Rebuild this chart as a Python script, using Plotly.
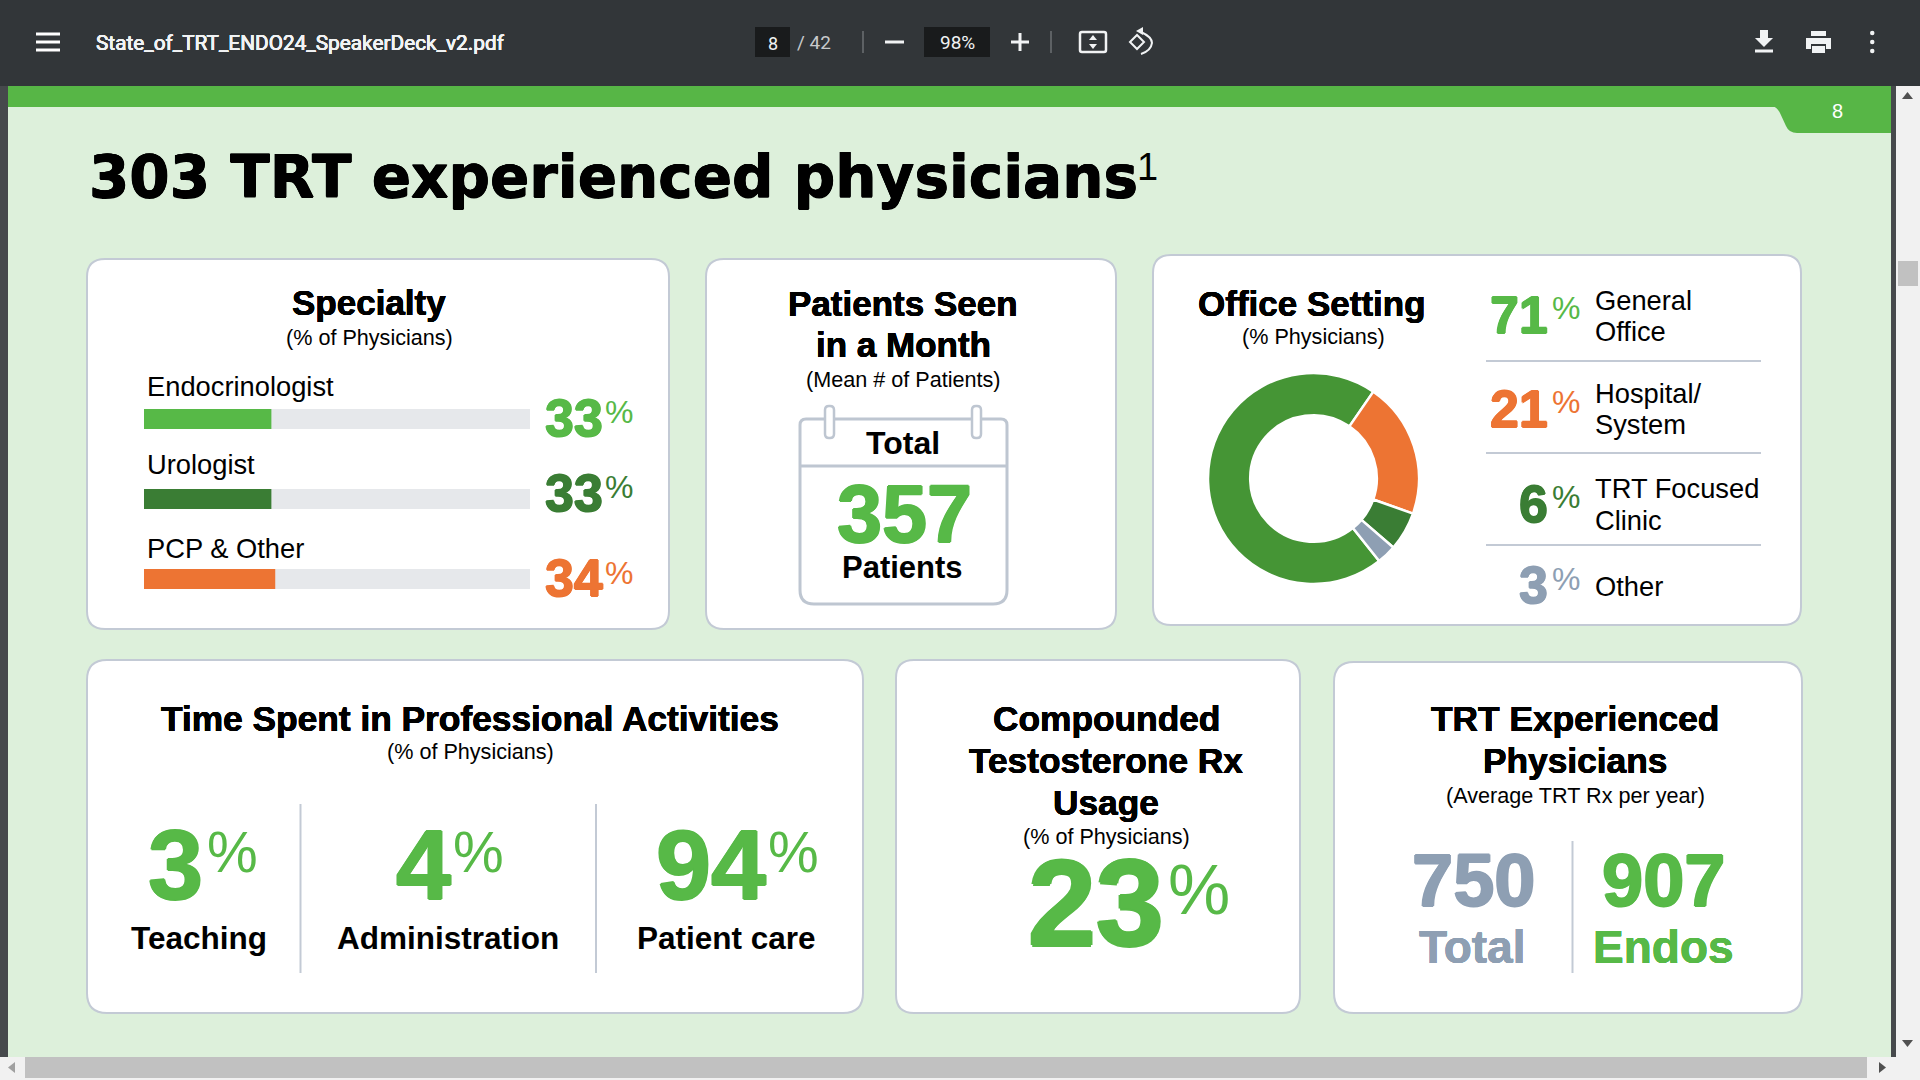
import plotly.graph_objects as go

W, H = 1920, 1080

# page text
file_name = "State_of_TRT_ENDO24_SpeakerDeck_v2.pdf"
page_no = "8"
page_total = "/ 42"
zoom_level = "98%"
main_title = "303 TRT experienced physicians"

# specialty card
specialty_names = ["Endocrinologist", "Urologist", "PCP & Other"]
specialty_values = [33, 33, 34]
specialty_track = [100, 100, 100]

# office setting card
office_names = ["General Office", "Hospital/System", "TRT Focused Clinic", "Other"]
office_values = [71, 21, 6, 3]

# single number cards
patients_total = 357
activity_names = ["Teaching", "Administration", "Patient care"]
activity_values = [3, 4, 94]
compounded_value = 23
rx_names = ["Total", "Endos"]
rx_values = [750, 907]

GREEN = "#57B947"
DARK = "#3A7D34"
ORANGE = "#ED7433"
GREY = "#8E9FB3"
PIE_GREEN = "#459535"
LINE = "#C3CAD5"
BAR_DARK = "#323639"
SANS = "Liberation Sans"

specialty_colors = [GREEN, DARK, ORANGE]
office_text_colors = [GREEN, ORANGE, DARK, GREY]
office_pie_colors = [PIE_GREEN, ORANGE, DARK, GREY]

shapes = []
notes = []


def px(x):
    return x / W


def py(y):
    return 1 - y / H


def add_rect(x0, y0, x1, y1, fill, line=None, width=0):
    shapes.append(dict(type="rect", xref="paper", yref="paper", layer="below",
                       x0=px(x0), x1=px(x1), y0=py(y0), y1=py(y1), fillcolor=fill,
                       line=dict(color=line or fill, width=width)))


def add_line(x0, y0, x1, y1, color=LINE, width=2):
    shapes.append(dict(type="line", xref="paper", yref="paper", layer="below",
                       x0=px(x0), x1=px(x1), y0=py(y0), y1=py(y1),
                       line=dict(color=color, width=width)))


def add_path(points, fill=None, line=None, width=0):
    # points is a list of (command, x, y, ...) in pixels
    d = ""
    for p in points:
        d += p[0]
        vals = p[1:]
        for i in range(0, len(vals), 2):
            d += f" {px(vals[i]):.5f},{py(vals[i + 1]):.5f} "
    shapes.append(dict(type="path", xref="paper", yref="paper", layer="below", path=d,
                       fillcolor=fill or "rgba(0,0,0,0)",
                       line=dict(color=line or "rgba(0,0,0,0)", width=width)))


def round_rect(x0, y0, x1, y1, r, fill="#FFFFFF", line=LINE, width=2, r_top=None):
    rt = r if r_top is None else r_top
    add_path([("M", x0 + rt, y0), ("L", x1 - rt, y0), ("Q", x1, y0, x1, y0 + rt),
              ("L", x1, y1 - r), ("Q", x1, y1, x1 - r, y1), ("L", x0 + r, y1),
              ("Q", x0, y1, x0, y1 - r), ("L", x0, y0 + rt), ("Q", x0, y0, x0 + rt, y0), ("Z",)],
             fill=fill, line=line, width=width)


def add_text(x, base, text, size, color="#000000", bold=False, anchor="center", family=SANS, heavy=0):
    # base is the text baseline in pixels, annotations only anchor on the box
    font = dict(family=family, size=size, color=color, weight=700 if bold else 400)
    if heavy:
        # the slide text is drawn fatter than plain bold
        font["shadow"] = (f"{heavy}px 0 0 {color}, -{heavy}px 0 0 {color}, "
                          f"0 {heavy}px 0 {color}, 0 -{heavy}px 0 {color}")
    notes.append(dict(xref="paper", yref="paper", x=px(x), y=py(base - 0.33 * size),
                      xanchor=anchor, yanchor="middle", text=text, showarrow=False,
                      borderpad=0, font=font))


def add_pct(x_digits_end, base, value, size, pct_x, pct_base, pct_size, color, heavy=0.8):
    add_text(x_digits_end, base, str(value), size, color, bold=True, anchor="right", heavy=heavy)
    add_text(pct_x, pct_base, "%", pct_size, color, anchor="left")


# viewer chrome
add_rect(0, 0, W, H, "#46494C")
add_rect(8, 86, 1891, 1057, "#DDF0DB")
add_rect(8, 86, 1891, 107, "#57B646")
add_rect(1896, 86, W, 1057, "#F1F1F1")
add_rect(0, 1057, W, H, "#F1F1F1")
add_rect(0, 0, W, 86, BAR_DARK)
add_path([("M", 1772, 106), ("L", 1891, 106), ("L", 1891, 133), ("L", 1797, 133),
          ("Q", 1789, 133, 1786, 126), ("L", 1780, 113), ("Q", 1777, 107, 1772, 106), ("Z",)],
         fill="#57B646")
add_rect(1898, 261, 1918, 286, "#C1C1C1")
add_rect(25, 1057, 1867, 1078, "#C1C1C1")
add_path([("M", 1902, 99), ("L", 1913, 99), ("L", 1907.5, 92), ("Z",)], fill="#505050")
add_path([("M", 1902, 1040), ("L", 1913, 1040), ("L", 1907.5, 1047), ("Z",)], fill="#505050")
add_path([("M", 15, 1062), ("L", 15, 1073), ("L", 8, 1067.5), ("Z",)], fill="#A0A0A0")
add_path([("M", 1879, 1062), ("L", 1879, 1073), ("L", 1886, 1067.5), ("Z",)], fill="#505050")

# toolbar icons
for y in [34, 42, 50]:
    add_line(36, y, 60, y, "#FFFFFF", 3)
add_rect(755, 27, 790, 57, "#191B1C")
add_rect(924, 27, 990, 57, "#191B1C")
add_line(863, 31, 863, 53, "#6C7073", 1.5)
add_line(1051, 31, 1051, 53, "#6C7073", 1.5)
add_line(885, 42, 904, 42, "#F1F3F4", 3)
add_line(1011, 42, 1029, 42, "#F1F3F4", 3)
add_line(1020, 33, 1020, 51, "#F1F3F4", 3)
round_rect(1080, 32, 1106, 52, 2, fill=BAR_DARK, line="#F1F3F4", width=2.5)
add_path([("M", 1089, 40), ("L", 1097, 40), ("L", 1093, 35), ("Z",)], fill="#F1F3F4")
add_path([("M", 1089, 44), ("L", 1097, 44), ("L", 1093, 49), ("Z",)], fill="#F1F3F4")
add_path([("M", 1130, 42), ("L", 1137, 35), ("L", 1144, 42), ("L", 1137, 49), ("Z",)], line="#F1F3F4", width=2)
add_path([("M", 1141, 32), ("Q", 1152, 37, 1152, 43), ("Q", 1151, 51, 1141, 54)], line="#F1F3F4", width=2)
add_path([("M", 1136, 31), ("L", 1143, 27), ("L", 1143, 35), ("Z",)], fill="#F1F3F4")
add_path([("M", 1760, 30), ("L", 1768, 30), ("L", 1768, 38), ("L", 1773, 38), ("L", 1764, 47),
          ("L", 1755, 38), ("L", 1760, 38), ("Z",)], fill="#F1F3F4")
add_line(1755, 51, 1773, 51, "#F1F3F4", 3)
add_path([("M", 1811, 31), ("L", 1826, 31), ("L", 1826, 36), ("L", 1811, 36), ("Z",)], fill="#F1F3F4")
add_path([("M", 1806, 38), ("L", 1831, 38), ("L", 1831, 49), ("L", 1826, 49), ("L", 1826, 44),
          ("L", 1811, 44), ("L", 1811, 49), ("L", 1806, 49), ("Z",)], fill="#F1F3F4")
add_path([("M", 1812, 46), ("L", 1825, 46), ("L", 1825, 53), ("L", 1812, 53), ("Z",)], fill="#F1F3F4")
for y in [33, 42, 51]:
    shapes.append(dict(type="circle", xref="paper", yref="paper", layer="below",
                       x0=px(1870), x1=px(1874.5), y0=py(y - 2.3), y1=py(y + 2.3),
                       fillcolor="#F1F3F4", line=dict(width=0)))

add_text(95, 50, file_name, 20.8, "#F1F3F4", anchor="left", family="Roboto", heavy=0.2)
add_text(772.5, 49, page_no, 18, "#F1F3F4", family="Roboto")
add_text(796, 49, page_total, 19, "#C8CACC", anchor="left", family="Roboto")
add_text(957, 49, zoom_level, 19, "#F1F3F4", family="Roboto")
add_text(1837, 118, page_no, 20, "#FFFFFF")

# title
add_text(88, 196, main_title, 58, bold=True, anchor="left", family="DejaVu Sans", heavy=0.5)
add_text(1136, 180, "1", 38, anchor="left")

# cards
round_rect(87, 259, 669, 629, 18)
round_rect(706, 259, 1116, 629, 18)
round_rect(1153, 255, 1801, 625, 18)
round_rect(87, 660, 863, 1013, 20)
round_rect(896, 660, 1300, 1013, 18)
round_rect(1334, 662, 1802, 1013, 20)

# specialty
add_text(369, 314, "Specialty", 35, bold=True, heavy=0.3)
add_text(369, 345, "(% of Physicians)", 21.6)
for name, base in zip(specialty_names, [396, 474, 558]):
    add_text(146, base, name, 27.3, anchor="left")
add_pct(604, 435, specialty_values[0], 52, 604, 423, 32, specialty_colors[0])
add_pct(604, 510, specialty_values[1], 52, 604, 498, 32, specialty_colors[1])
add_pct(604, 595, specialty_values[2], 52, 604, 584, 32, specialty_colors[2])

# patients seen, calendar drawn by hand
add_text(903, 315, "Patients Seen", 35, bold=True, heavy=0.3)
add_text(903, 356, "in a Month", 35, bold=True, heavy=0.3)
add_text(903, 387, "(Mean # of Patients)", 21.6)
round_rect(800, 419, 1007, 604, 14, r_top=6, line="#BEC6D1", width=3)
add_line(800, 466, 1007, 466, "#BEC6D1", 3)
round_rect(825, 406, 834, 438, 4, line="#BEC6D1", width=2.5)
round_rect(972, 406, 981, 438, 4, line="#BEC6D1", width=2.5)
add_text(903, 454, "Total", 32, bold=True)
add_text(904, 541, str(patients_total), 81, GREEN, bold=True, heavy=1)
add_text(902, 578, "Patients", 31, bold=True)

# office setting
add_text(1312, 315, "Office Setting", 35, bold=True, heavy=0.3)
add_text(1313, 344, "(% Physicians)", 21.6)
add_pct(1549, 332, office_values[0], 52, 1551, 319, 32, office_text_colors[0])
add_pct(1549, 426, office_values[1], 52, 1551, 413, 32, office_text_colors[1])
add_pct(1549, 521, office_values[2], 52, 1551, 508, 32, office_text_colors[2])
add_pct(1549, 602, office_values[3], 52, 1551, 590, 32, office_text_colors[3])
add_text(1594, 310, "General", 27.3, anchor="left")
add_text(1594, 341, "Office", 27.3, anchor="left")
add_text(1594, 403, "Hospital/", 27.3, anchor="left")
add_text(1594, 434, "System", 27.3, anchor="left")
add_text(1594, 498, "TRT Focused", 27.3, anchor="left")
add_text(1594, 530, "Clinic", 27.3, anchor="left")
add_text(1594, 596, "Other", 27.3, anchor="left")
for y in [361, 453, 545]:
    add_line(1486, y, 1761, y)

# time spent
add_text(470, 730, "Time Spent in Professional Activities", 35.3, bold=True, heavy=0.3)
add_text(470, 759, "(% of Physicians)", 21.6)
add_pct(204, 897, activity_values[0], 99, 206, 871, 57, GREEN, heavy=1)
add_pct(452, 897, activity_values[1], 99, 452, 871, 57, GREEN, heavy=1)
add_pct(767, 897, activity_values[2], 99, 767, 871, 57, GREEN, heavy=1)
for name, x in zip(activity_names, [199, 448, 726]):
    add_text(x, 948, name, 31.5, bold=True)
add_line(300.5, 804, 300.5, 973)
add_line(596, 804, 596, 973)

# compounded
add_text(1106, 730, "Compounded", 35.3, bold=True, heavy=0.3)
add_text(1106, 772, "Testosterone Rx", 35.3, bold=True, heavy=0.3)
add_text(1106, 814, "Usage", 35.3, bold=True, heavy=0.3)
add_text(1106, 844, "(% of Physicians)", 21.6)
add_pct(1165, 943, compounded_value, 122, 1167, 913, 70, GREEN, heavy=1.5)

# rx per year
add_text(1575, 730, "TRT Experienced", 35.3, bold=True, heavy=0.3)
add_text(1575, 772, "Physicians", 35.3, bold=True, heavy=0.3)
add_text(1575, 803, "(Average TRT Rx per year)", 21.6)
add_text(1473, 905, str(rx_values[0]), 74, GREY, bold=True, heavy=1)
add_text(1663, 905, str(rx_values[1]), 74, GREEN, bold=True, heavy=1)
add_text(1472, 962, rx_names[0], 46, GREY, bold=True, heavy=0.3)
add_text(1663, 962, rx_names[1], 46, GREEN, bold=True, heavy=0.3)
add_line(1572.5, 841, 1572.5, 973)

fig = go.Figure()

# grey track first, value bar over it
fig.add_trace(go.Bar(y=specialty_names, x=specialty_track, orientation="h", width=0.25,
                     marker=dict(color="#E6E8EB", line=dict(width=0)), hoverinfo="skip"))
fig.add_trace(go.Bar(y=specialty_names, x=specialty_values, orientation="h", width=0.25,
                     marker=dict(color=specialty_colors, line=dict(width=0))))

fig.add_trace(go.Pie(labels=office_names, values=office_values, hole=0.6, sort=False,
                     direction="clockwise", rotation=141.5, textinfo="none",
                     marker=dict(colors=office_pie_colors, line=dict(color="#FFFFFF", width=2.5)),
                     domain=dict(x=[px(1208), px(1419)], y=[py(584), py(373)])))

fig.update_layout(
    width=W, height=H,
    margin=dict(l=0, r=0, t=0, b=0),
    paper_bgcolor="#46494C",
    plot_bgcolor="rgba(0,0,0,0)",
    showlegend=False,
    barmode="overlay",
    shapes=shapes,
    annotations=notes,
    xaxis=dict(domain=[px(144), px(530)], range=[0, 100], visible=False, fixedrange=True),
    yaxis=dict(domain=[py(619), py(379)], range=[2.5, -0.5], visible=False, fixedrange=True,
               type="category", categoryorder="array", categoryarray=specialty_names),
)

fig.write_html("out.html", config={"displayModeBar": False},
               post_script="document.body.style.margin = '0';")
